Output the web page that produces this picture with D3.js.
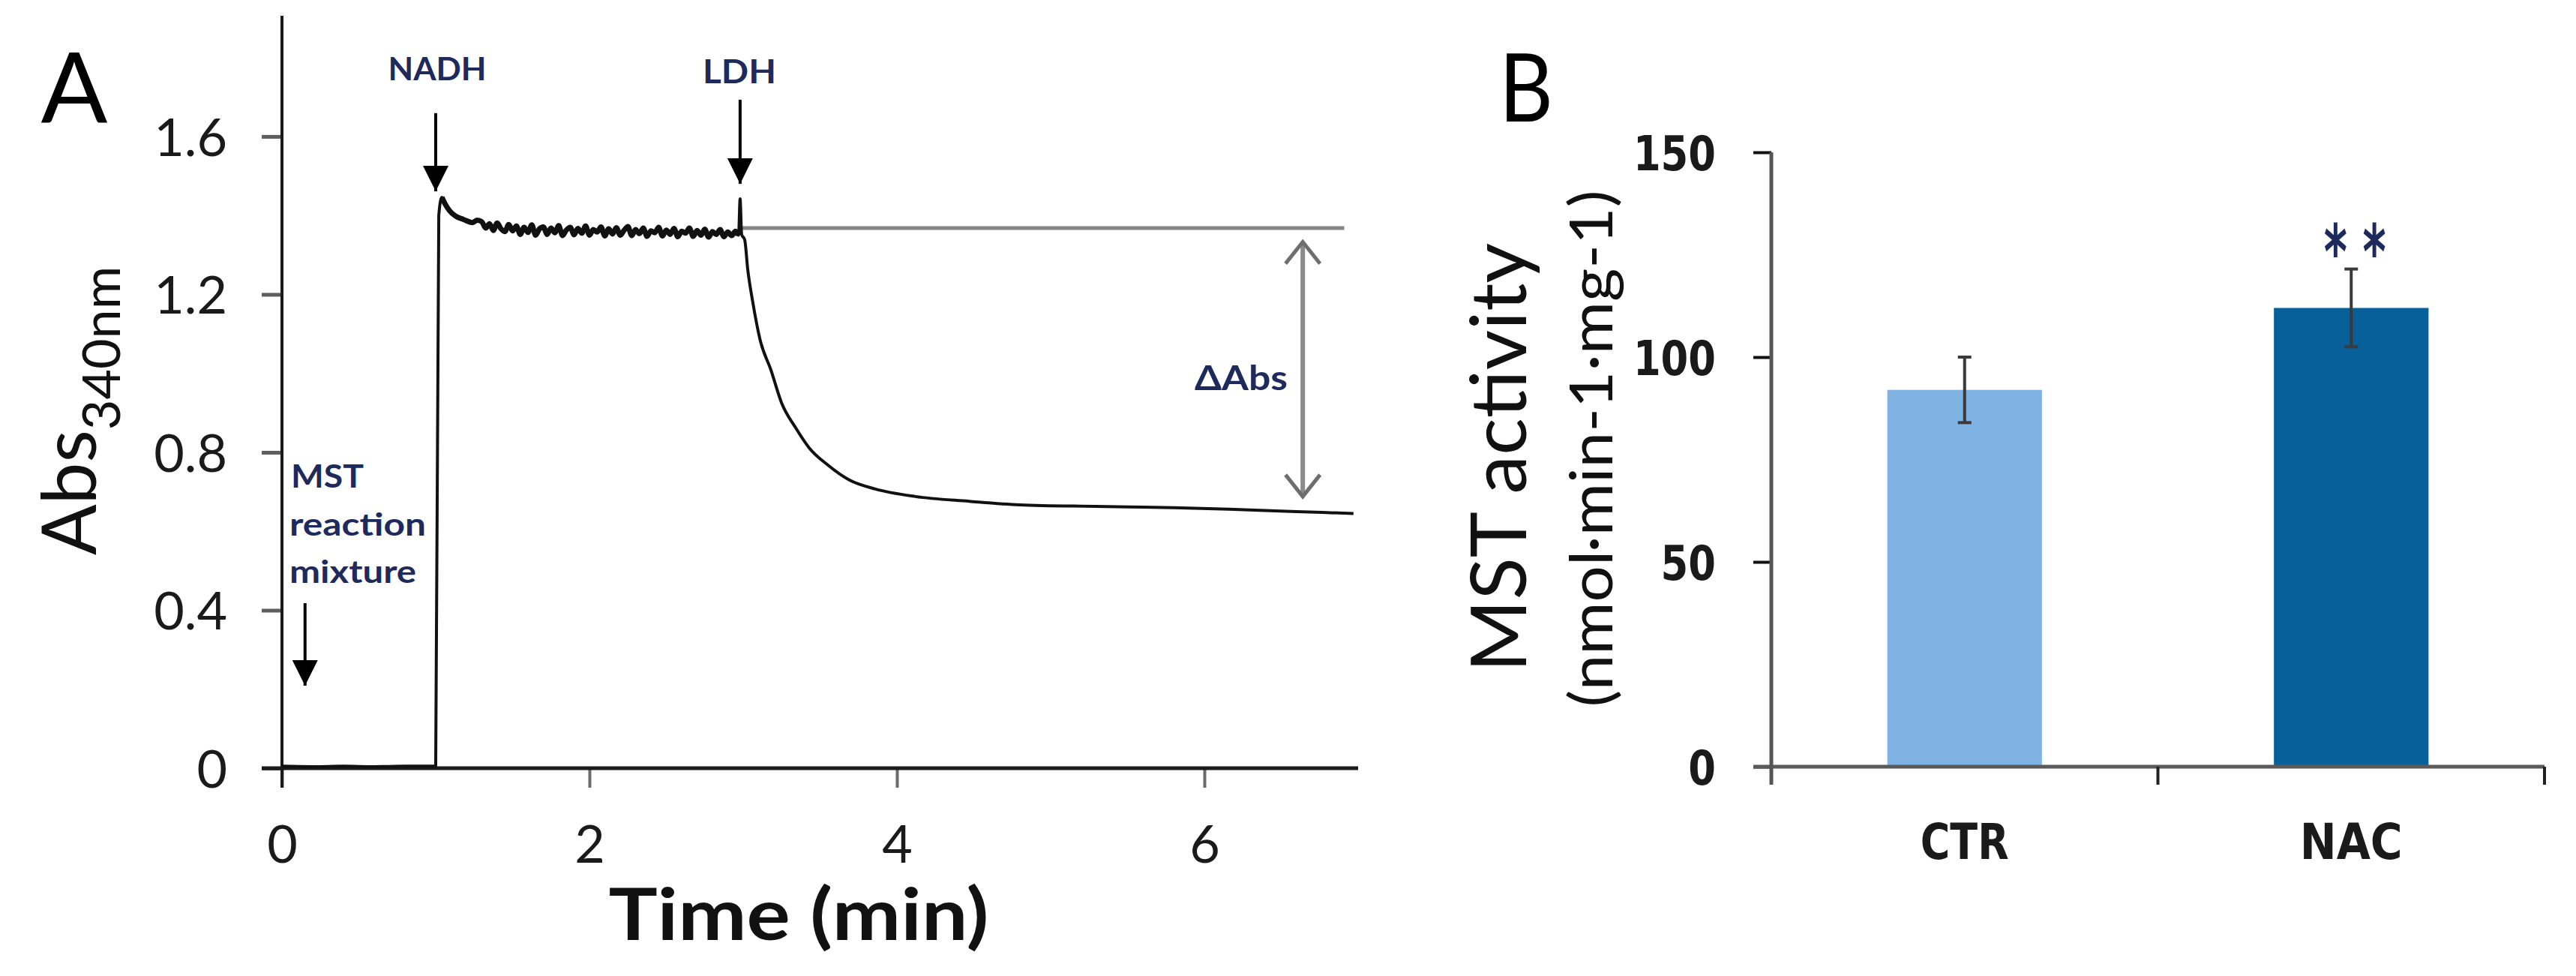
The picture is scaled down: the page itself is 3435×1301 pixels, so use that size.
<!DOCTYPE html>
<html>
<head>
<meta charset="utf-8">
<script src="https://cdn.jsdelivr.net/npm/d3@7"></script>
<style>
  body { margin: 0; background: #fff; }
</style>
</head>
<body>
<script>
// ---------- panel A : absorbance trace ----------
const traceTime = [
  0, 0.2, 0.4, 0.6, 0.8, 0.99, 1.0, 1.02, 1.04, 1.06, 1.09, 1.13, 1.18, 1.24, 1.27,
  1.300, 1.325, 1.350, 1.375, 1.400, 1.425, 1.450, 1.475, 1.500, 1.525, 1.550, 1.575,
  1.600, 1.625, 1.650, 1.675, 1.700, 1.725, 1.750, 1.775, 1.800, 1.825, 1.850, 1.875,
  1.900, 1.925, 1.950, 1.975, 2.000, 2.025, 2.050, 2.075, 2.100, 2.125, 2.150, 2.175,
  2.200, 2.225, 2.250, 2.275, 2.300, 2.325, 2.350, 2.375, 2.400, 2.425, 2.450, 2.475,
  2.500, 2.525, 2.550, 2.575, 2.600, 2.625, 2.650, 2.675, 2.700, 2.725, 2.750, 2.775,
  2.800, 2.825, 2.850, 2.875, 2.900, 2.925, 2.950, 2.970, 2.980, 2.990,
  3.01, 3.03, 3.06, 3.11, 3.18, 3.25, 3.34, 3.43, 3.55, 3.69, 3.86, 4.12, 4.47, 4.80,
  5.29, 5.80, 6.16, 6.60, 6.97
];
const traceAbs = [
  0.005, 0.004, 0.005, 0.004, 0.005, 0.005, 0.005, 1.40, 1.446, 1.43, 1.412, 1.398, 1.39, 1.382, 1.388,
  1.384, 1.368, 1.379, 1.362, 1.381, 1.366, 1.359, 1.377, 1.361, 1.373, 1.352, 1.370,
  1.357, 1.376, 1.350, 1.366, 1.371, 1.352, 1.368, 1.356, 1.374, 1.349, 1.363, 1.370,
  1.351, 1.367, 1.355, 1.373, 1.350, 1.364, 1.358, 1.371, 1.348, 1.366, 1.353, 1.369,
  1.350, 1.362, 1.372, 1.349, 1.364, 1.354, 1.368, 1.347, 1.361, 1.356, 1.370, 1.348,
  1.363, 1.352, 1.367, 1.346, 1.360, 1.355, 1.368, 1.347, 1.362, 1.350, 1.365, 1.345,
  1.359, 1.352, 1.364, 1.346, 1.358, 1.349, 1.360, 1.350, 1.442, 1.352,
  1.338, 1.262, 1.186, 1.085, 1.009, 0.925, 0.863, 0.811, 0.768, 0.730, 0.707, 0.688, 0.676, 0.667,
  0.663, 0.660, 0.656, 0.650, 0.645
];
const timeTicks = [0, 2, 4, 6];
const absTicks = [0, 0.4, 0.8, 1.2, 1.6];

// ---------- panel B : MST activity ----------
const groups = ["CTR", "NAC"];
const activity = [92, 112];
const activityErr = [8, 9.5];
const activityTicks = [0, 50, 100, 150];
const barColors = ["#7fb3e3", "#07609a"];

const W = 3435, H = 1301;
const lato = "Lato, 'Open Sans', sans-serif";
const dejavu = "'DejaVu Sans', Verdana, sans-serif";
const navy = "#1f2a5c";

const svg = d3.select("body").append("svg")
  .attr("width", W)
  .attr("height", H);

// markers for the arrows
const defs = svg.append("defs");
defs.append("marker")
  .attr("id", "headSolid")
  .attr("viewBox", "0 0 34 34")
  .attr("markerUnits", "userSpaceOnUse")
  .attr("markerWidth", 34).attr("markerHeight", 34)
  .attr("refX", 34).attr("refY", 17)
  .attr("orient", "auto")
  .append("path").attr("d", "M0,0 L34,17 L0,34 Z").attr("fill", "#000");
defs.append("marker")
  .attr("id", "headOpen")
  .attr("viewBox", "0 0 36 50")
  .attr("markerUnits", "userSpaceOnUse")
  .attr("markerWidth", 36).attr("markerHeight", 50)
  .attr("refX", 32).attr("refY", 25)
  .attr("orient", "auto-start-reverse")
  .append("path").attr("d", "M3,2 L32,25 L3,48")
  .attr("fill", "none").attr("stroke", "#6e6e6e").attr("stroke-width", 5);

// small helper for free text
function addText(x, y, str, o) {
  const t = svg.append("text")
    .attr("transform", `translate(${x},${y})` + (o.rotate ? ` rotate(${o.rotate})` : ""))
    .attr("font-family", o.family || lato)
    .attr("font-size", o.size)
    .attr("font-weight", o.weight || "normal")
    .attr("text-anchor", o.anchor || "middle")
    .attr("fill", o.fill || "#111")
    .text(str);
  if (o.len) t.attr("textLength", o.len).attr("lengthAdjust", "spacingAndGlyphs");
  return t;
}

//=============================
//  Panel A
//=============================
const xA = d3.scaleLinear().domain([0, 7]).range([376, 1811]);
const yA = d3.scaleLinear().domain([0, 1.9]).range([1024, 24]);

const gxA = svg.append("g")
  .attr("transform", `translate(0,${yA(0)})`)
  .call(d3.axisBottom(xA).tickValues(timeTicks).tickSize(26).tickSizeOuter(0).tickFormat(d3.format("d")));
gxA.select(".domain").remove();
gxA.selectAll(".tick line").attr("stroke", "#6b6b6b").attr("stroke-width", 4);
gxA.selectAll(".tick text")
  .attr("y", 126).attr("dy", null)
  .attr("font-family", lato).attr("font-size", 70).attr("fill", "#1a1a1a");

const gyA = svg.append("g")
  .attr("transform", `translate(${xA(0)},0)`)
  .call(d3.axisLeft(yA).tickValues(absTicks).tickSize(27).tickSizeOuter(0)
    .tickFormat(d => d === 0 ? "0" : d3.format(".1f")(d)));
gyA.select(".domain").remove();
gyA.selectAll(".tick line").attr("stroke", "#5e5e5e").attr("stroke-width", 5);
gyA.selectAll(".tick text")
  .attr("x", -73).attr("dy", "0.36em")
  .attr("font-family", lato).attr("font-size", 70).attr("fill", "#1a1a1a");

// axis lines
svg.append("line")
  .attr("x1", xA(0)).attr("x2", xA(0))
  .attr("y1", yA(1.9) - 3).attr("y2", yA(0) + 26)
  .attr("stroke", "#1a1a1a").attr("stroke-width", 4);
svg.append("line")
  .attr("x1", xA(0) - 27).attr("x2", xA(7))
  .attr("y1", yA(0)).attr("y2", yA(0))
  .attr("stroke", "#1a1a1a").attr("stroke-width", 5);

// reference level after LDH
svg.append("line")
  .attr("x1", xA(2.98)).attr("x2", xA(6.91))
  .attr("y1", yA(1.368)).attr("y2", yA(1.368))
  .attr("stroke", "#858585").attr("stroke-width", 5);

// trace
const trace = traceTime.map((t, i) => [t, traceAbs[i]]);
const traceLine = d3.line().curve(d3.curveMonotoneX).x(d => xA(d[0])).y(d => yA(d[1]));
svg.append("path")
  .datum(trace)
  .attr("fill", "none")
  .attr("stroke", "#111")
  .attr("stroke-width", 4)
  .attr("stroke-linejoin", "round")
  .attr("d", traceLine);
// the noisy plateau reads as a thicker band
svg.append("path")
  .datum(trace.filter(d => d[0] >= 1.04 && d[0] <= 2.97))
  .attr("fill", "none")
  .attr("stroke", "#111")
  .attr("stroke-width", 7)
  .attr("stroke-linejoin", "round")
  .attr("d", traceLine);

// addition arrows
const arrows = [
  { t: 1.0, from: 1.659, to: 1.461 },
  { t: 2.98, from: 1.693, to: 1.480 },
  { t: 0.15, from: 0.418, to: 0.209 }
];
svg.selectAll(".addArrow")
  .data(arrows)
  .join("line")
  .attr("class", "addArrow")
  .attr("x1", d => xA(d.t)).attr("x2", d => xA(d.t))
  .attr("y1", d => yA(d.from)).attr("y2", d => yA(d.to))
  .attr("stroke", "#000").attr("stroke-width", 4)
  .attr("marker-end", "url(#headSolid)");

// delta Abs double arrow
svg.append("line")
  .attr("x1", xA(6.64)).attr("x2", xA(6.64))
  .attr("y1", yA(1.333)).attr("y2", yA(0.688))
  .attr("stroke", "#8a8a8a").attr("stroke-width", 6)
  .attr("marker-start", "url(#headOpen)")
  .attr("marker-end", "url(#headOpen)");

// texts panel A
addText(99, 164, "A", { size: 130, len: 89, fill: "#000" });
addText(583, 107, "NADH", { size: 42, weight: "bold", fill: navy, len: 131 });
addText(986, 111, "LDH", { size: 44, weight: "bold", fill: navy, len: 98 });
addText(388, 650, "MST", { size: 42, weight: "bold", fill: navy, anchor: "start", len: 97 });
addText(386, 714, "reaction", { size: 42, weight: "bold", fill: navy, anchor: "start", len: 182 });
addText(386, 777, "mixture", { size: 42, weight: "bold", fill: navy, anchor: "start", len: 169 });
addText(1655, 520, "ΔAbs", { size: 46, weight: "bold", fill: navy, len: 124 });
addText(1065, 1253, "Time (min)", { size: 96, weight: "bold", fill: "#111", len: 507 });

const absLabel = svg.append("text")
  .attr("transform", "translate(128,740) rotate(-90)")
  .attr("font-family", lato)
  .attr("fill", "#111");
absLabel.append("tspan").attr("font-size", 100).text("Abs");
absLabel.append("tspan").attr("font-size", 70).attr("dy", 32).text("340nm");

//=============================
//  Panel B
//=============================
const xB = d3.scaleBand().domain(groups).range([2362, 3393]).padding(0);
const yB = d3.scaleLinear().domain([0, 150]).range([1022, 203]);
const bw = xB.bandwidth();

svg.selectAll(".bar")
  .data(groups)
  .join("rect")
  .attr("class", "bar")
  .attr("x", d => xB(d) + bw * 0.3)
  .attr("width", bw * 0.4)
  .attr("y", (d, i) => yB(activity[i]))
  .attr("height", (d, i) => yB(0) - yB(activity[i]))
  .attr("fill", (d, i) => barColors[i]);

// error bars
const eb = svg.selectAll(".err")
  .data(groups)
  .join("g")
  .attr("class", "err")
  .attr("stroke", "#3a3a3a")
  .attr("stroke-width", 4);
eb.append("line")
  .attr("x1", d => xB(d) + bw / 2).attr("x2", d => xB(d) + bw / 2)
  .attr("y1", (d, i) => yB(activity[i] + activityErr[i]))
  .attr("y2", (d, i) => yB(activity[i] - activityErr[i]));
eb.selectAll(".cap")
  .data((d, i) => [activity[i] + activityErr[i], activity[i] - activityErr[i]].map(v => ({ g: d, v })))
  .join("line")
  .attr("class", "cap")
  .attr("x1", d => xB(d.g) + bw / 2 - 9).attr("x2", d => xB(d.g) + bw / 2 + 9)
  .attr("y1", d => yB(d.v)).attr("y2", d => yB(d.v));

// y axis B
const gyB = svg.append("g")
  .attr("transform", `translate(${xB.range()[0]},0)`)
  .call(d3.axisLeft(yB).tickValues(activityTicks).tickSize(24).tickSizeOuter(0));
gyB.select(".domain").remove();
gyB.selectAll(".tick line").attr("stroke", "#111").attr("stroke-width", 4);
gyB.selectAll(".tick text")
  .attr("x", -74).attr("dy", "0.36em")
  .attr("font-family", dejavu).attr("font-weight", "bold")
  .attr("font-size", 64).attr("fill", "#1a1a1a")
  .attr("textLength", d => String(d).length * 36.7)
  .attr("lengthAdjust", "spacingAndGlyphs");

// axis lines B
svg.append("line")
  .attr("x1", xB.range()[0] - 24).attr("x2", xB.range()[1])
  .attr("y1", yB(0)).attr("y2", yB(0))
  .attr("stroke", "#5a5a5a").attr("stroke-width", 5);
svg.append("line")
  .attr("x1", xB.range()[0]).attr("x2", xB.range()[0])
  .attr("y1", yB(150)).attr("y2", yB(0) + 24)
  .attr("stroke", "#555").attr("stroke-width", 5);
const bounds = groups.map(g => xB(g)).concat([xB.range()[1]]).slice(1);
svg.selectAll(".bTick")
  .data(bounds)
  .join("line")
  .attr("class", "bTick")
  .attr("x1", d => d).attr("x2", d => d)
  .attr("y1", yB(0)).attr("y2", yB(0) + 24)
  .attr("stroke", "#222").attr("stroke-width", 4);

// category labels
const catLen = { CTR: 118, NAC: 137 };
svg.selectAll(".cat")
  .data(groups)
  .join("text")
  .attr("class", "cat")
  .attr("x", d => xB(d) + bw / 2)
  .attr("y", 1145)
  .attr("text-anchor", "middle")
  .attr("font-family", dejavu).attr("font-weight", "bold")
  .attr("font-size", 66).attr("fill", "#1a1a1a")
  .attr("textLength", d => catLen[d])
  .attr("lengthAdjust", "spacingAndGlyphs")
  .text(d => d);

// significance
addText(xB("NAC") + bw / 2 + 5, 371, "* *", { size: 100, weight: "bold", family: dejavu, fill: navy, len: 83 });

// texts panel B
addText(2035, 162, "B", { size: 126, len: 72, fill: "#000" });
addText(2035, 610, "MST activity", { size: 103, rotate: -90, len: 572, fill: "#111" });
addText(2150, 598, "(nmol·min-1·mg-1)", { size: 80, rotate: -90, len: 689, fill: "#111" });
</script>
</body>
</html>
